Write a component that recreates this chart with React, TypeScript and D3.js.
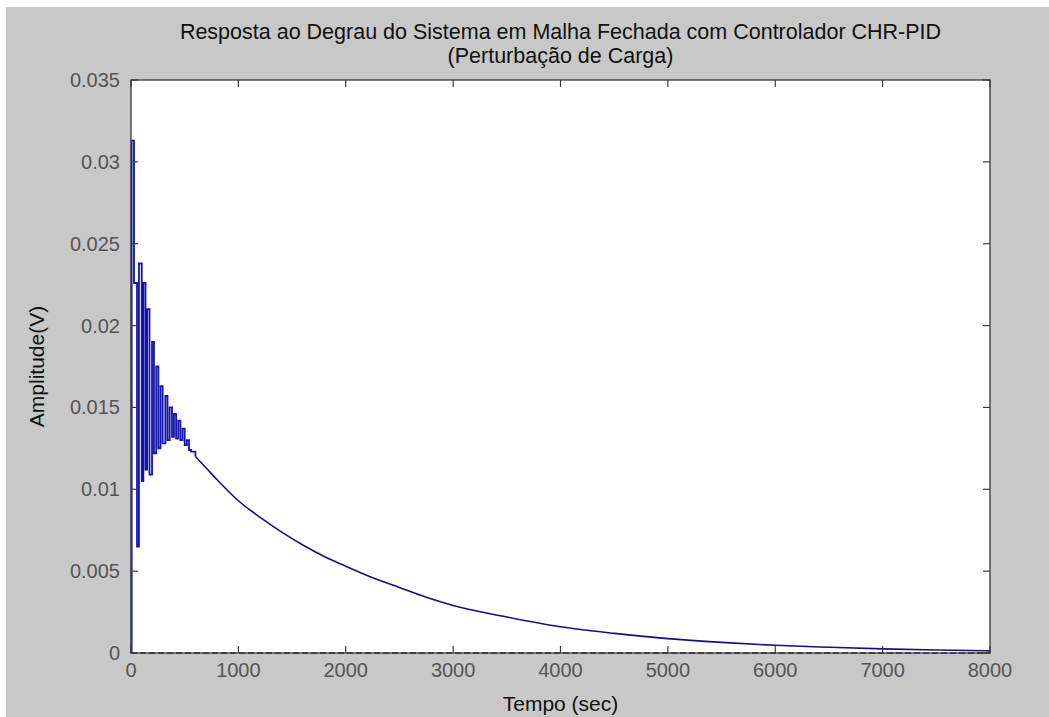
import React, { useEffect, useRef } from 'react';
import * as d3 from 'd3';

// step response (time in sec, amplitude in V)
const timeSec = [
    0, 6, 28, 56, 74, 100, 115, 135, 150, 172, 196, 214, 235, 255, 275, 295,
    320, 340, 360, 382, 400, 420, 440, 460, 480, 500, 520, 540, 560, 600,
    700, 800, 1000, 1200, 1400, 1600, 1800, 2000, 2250, 2500, 2750, 3000,
    3500, 4000, 4500, 5000, 5500, 6000, 6500, 7000, 7500, 8000,
];
const amplitude = [
    0, 0.0313, 0.0226, 0.0065, 0.0238, 0.0105, 0.0226, 0.0112, 0.021, 0.0109,
    0.019, 0.0122, 0.0175, 0.0125, 0.0163, 0.0128, 0.0157, 0.013, 0.015, 0.0132,
    0.0146, 0.0131, 0.0142, 0.013, 0.0137, 0.0127, 0.013, 0.0124, 0.0123, 0.012,
    0.0113, 0.0106, 0.0093, 0.0083, 0.0074, 0.0066, 0.0059, 0.0053, 0.0046,
    0.004, 0.0034, 0.0029, 0.0022, 0.0016, 0.0012, 0.00088, 0.00065, 0.00047,
    0.00035, 0.00025, 0.00018, 0.00013,
];
// end of the oscillating part (sec)
const oscillationEnd = 600;

const xTicks = [0, 1000, 2000, 3000, 4000, 5000, 6000, 7000, 8000];
const yTicks = [0, 0.005, 0.01, 0.015, 0.02, 0.025, 0.03, 0.035];

const titleLines = [
    'Resposta ao Degrau do Sistema em Malha Fechada com Controlador CHR-PID',
    '(Perturbação de Carga)',
];
const xLabel = 'Tempo (sec)';
const yLabel = 'Amplitude(V)';

export default function App() {
    const node = useRef<SVGSVGElement | null>(null);

    useEffect(() => {
        const width = 1049;
        const height = 717;
        const left = 131;
        const right = 990;
        const top = 80;
        const bottom = 653;
        const font = '"Liberation Sans", Arial, sans-serif';

        const svg = d3.select(node.current);
        svg.selectAll('*').remove();

        // figure background
        svg.append('rect').attr('width', width).attr('height', height).attr('fill', '#ffffff');
        svg.append('rect')
            .attr('x', 6).attr('y', 7)
            .attr('width', width - 6).attr('height', height - 7)
            .attr('fill', '#c8c8c8');

        const xScale = d3.scaleLinear().domain([0, 8000]).range([left, right]);
        const yScale = d3.scaleLinear().domain([0, 0.035]).range([bottom, top]);

        // axes area
        svg.append('rect')
            .attr('x', left).attr('y', top)
            .attr('width', right - left).attr('height', bottom - top)
            .attr('fill', '#ffffff');

        // steady state dashed line
        svg.append('line')
            .attr('x1', left).attr('x2', right)
            .attr('y1', yScale(0)).attr('y2', yScale(0))
            .attr('stroke', '#222')
            .attr('stroke-width', 1.5)
            .attr('stroke-dasharray', '6,3');

        // the response: stairs while it oscillates, smooth after
        const pts: [number, number][] = timeSec.map((t, i) => [t, amplitude[i]]);
        const osc = pts.filter((d) => d[0] <= oscillationEnd);
        const tail = pts.filter((d) => d[0] >= oscillationEnd);

        const stairs = d3.line<[number, number]>()
            .x((d) => xScale(d[0]))
            .y((d) => yScale(d[1]))
            .curve(d3.curveStepAfter);
        const line = d3.line<[number, number]>()
            .x((d) => xScale(d[0]))
            .y((d) => yScale(d[1]))
            .curve(d3.curveMonotoneX);

        svg.append('path')
            .attr('d', stairs(osc))
            .attr('fill', 'none')
            .attr('stroke', '#1414a8')
            .attr('stroke-width', 1.8);
        svg.append('path')
            .attr('d', line(tail))
            .attr('fill', 'none')
            .attr('stroke', '#12127a')
            .attr('stroke-width', 1.6);

        // box
        svg.append('rect')
            .attr('x', left).attr('y', top)
            .attr('width', right - left).attr('height', bottom - top)
            .attr('fill', 'none')
            .attr('stroke', '#3a3a3a')
            .attr('stroke-width', 1.3);

        const tickLen = 7;
        const ticks = svg.append('g').attr('stroke', '#3a3a3a').attr('stroke-width', 1.2);
        xTicks.forEach((t) => {
            const x = xScale(t);
            ticks.append('line').attr('x1', x).attr('x2', x).attr('y1', bottom).attr('y2', bottom - tickLen);
            ticks.append('line').attr('x1', x).attr('x2', x).attr('y1', top).attr('y2', top + tickLen);
        });
        yTicks.forEach((v) => {
            const y = yScale(v);
            ticks.append('line').attr('x1', left).attr('x2', left + tickLen).attr('y1', y).attr('y2', y);
            ticks.append('line').attr('x1', right).attr('x2', right - tickLen).attr('y1', y).attr('y2', y);
        });

        // tick labels
        svg.append('g')
            .selectAll('text')
            .data(xTicks)
            .enter()
            .append('text')
            .attr('x', (d) => xScale(d))
            .attr('y', bottom + 24)
            .attr('text-anchor', 'middle')
            .style('font-family', font)
            .style('font-size', '20px')
            .attr('fill', '#555')
            .text((d) => String(d));

        svg.append('g')
            .selectAll('text')
            .data(yTicks)
            .enter()
            .append('text')
            .attr('x', left - 11)
            .attr('y', (d) => yScale(d) + 7)
            .attr('text-anchor', 'end')
            .style('font-family', font)
            .style('font-size', '20px')
            .attr('fill', '#555')
            .text((d) => String(+d.toFixed(3)));

        // title
        titleLines.forEach((s, i) => {
            svg.append('text')
                .attr('x', (left + right) / 2)
                .attr('y', 39 + i * 24)
                .attr('text-anchor', 'middle')
                .style('font-family', font)
                .style('font-size', '21.5px')
                .attr('fill', '#111')
                .text(s);
        });

        svg.append('text')
            .attr('x', (left + right) / 2)
            .attr('y', 711)
            .attr('text-anchor', 'middle')
            .style('font-family', font)
            .style('font-size', '21px')
            .attr('fill', '#111')
            .text(xLabel);

        svg.append('text')
            .attr('transform', `translate(44, ${(top + bottom) / 2}) rotate(-90)`)
            .attr('text-anchor', 'middle')
            .style('font-family', font)
            .style('font-size', '21px')
            .attr('fill', '#111')
            .text(yLabel);
    }, []);

    return (
        <svg
            ref={node}
            width={1049}
            height={717}
            style={{ position: 'absolute', left: 0, top: 0 }}
        />
    );
}
